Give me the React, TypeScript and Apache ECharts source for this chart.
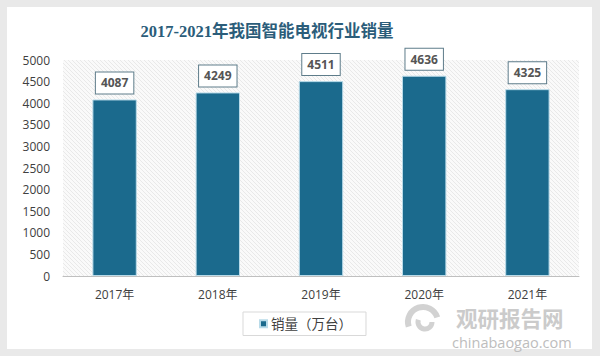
import React, { useEffect, useRef } from "react";
import * as echarts from "echarts";

const categories = ["2017年", "2018年", "2019年", "2020年", "2021年"];
const sales = [4087, 4249, 4511, 4636, 4325];
const seriesName = "销量（万台）";
const titleText = "2017-2021年我国智能电视行业销量";

function makeHatch(): HTMLCanvasElement {
  const s = 4;
  const c = document.createElement("canvas");
  c.width = s;
  c.height = s;
  const ctx = c.getContext("2d")!;
  ctx.fillStyle = "#fafafa";
  ctx.fillRect(0, 0, s, s);
  ctx.strokeStyle = "#e4e4e4";
  ctx.lineWidth = 0.8;
  ctx.beginPath();
  ctx.moveTo(-1, -1);
  ctx.lineTo(s + 1, s + 1);
  ctx.moveTo(-1, s - 1);
  ctx.lineTo(1, s + 1);
  ctx.moveTo(s - 1, -1);
  ctx.lineTo(s + 1, 1);
  ctx.stroke();
  return c;
}

export default function App() {
  const ref = useRef<HTMLDivElement>(null);
  useEffect(() => {
    if (!ref.current) return;
    const chart = echarts.init(ref.current, undefined, { renderer: "svg" });
    const font = "'Open Sans', 'Noto Sans CJK SC', sans-serif";
    chart.setOption({
      animation: false,
      backgroundColor: "#e9e9e9",
      graphic: [
        {
          type: "rect",
          shape: { x: 7, y: 7, width: 585, height: 342 },
          style: { fill: "#ffffff" },
          z: -10,
          silent: true,
        },
        {
          type: "text",
          x: 456,
          y: 306,
          style: {
            text: "观研报告网",
            fill: "#cbcbcb",
            fontSize: 21.5,
            fontWeight: "bold",
            fontFamily: "Noto Sans CJK SC",
            lineHeight: 22,
            verticalAlign: "top",
          },
          z: 100,
        },
        {
          type: "text",
          x: 452,
          y: 335,
          style: {
            text: "chinabaogao.com",
            fill: "#bdbdbd",
            fontSize: 14.5,
            fontFamily: "Open Sans",
            lineHeight: 14,
            verticalAlign: "top",
          },
          z: 100,
        },
        {
          type: "arc",
          shape: { cx: 423, cy: 322, r: 15, startAngle: Math.PI * 0.9, endAngle: Math.PI * 1.9 },
          style: { stroke: "#d2d2d2", lineWidth: 6, fill: "none" },
          z: 100,
        },
        {
          type: "arc",
          shape: { cx: 425, cy: 322, r: 7, startAngle: 0, endAngle: Math.PI * 1.1 },
          style: { stroke: "#d2d2d2", lineWidth: 5, fill: "none" },
          z: 100,
        },
      ],
      title: {
        text: titleText,
        left: 262,
        textAlign: "center",
        top: 18,
        textStyle: {
          fontFamily: "'Liberation Serif', 'Noto Sans CJK SC', serif",
          fontWeight: "bold",
          fontSize: 16.5,
          color: "#2b5d7a",
        },
      },
      legend: {
        left: 243,
        top: 312,
        padding: [5, 14, 5, 16],
        borderColor: "#d9d9d9",
        borderWidth: 1,
        backgroundColor: "#ffffff",
        itemWidth: 7,
        itemHeight: 7,
        itemGap: 4,
        icon: "rect",
        data: [seriesName],
        textStyle: { fontFamily: font, fontSize: 13.5, color: "#404040", padding: [0, 0, 0, -1] },
      },
      grid: {
        left: 63,
        right: 21,
        top: 60,
        bottom: 80,
        show: true,
        borderWidth: 0,
        backgroundColor: { image: makeHatch(), repeat: "repeat" },
      },
      xAxis: {
        type: "category",
        data: categories,
        axisLine: { lineStyle: { color: "#bfbfbf", width: 1 } },
        axisTick: { show: false },
        axisLabel: { color: "#404040", fontSize: 12, fontFamily: font, margin: 12 },
      },
      yAxis: {
        type: "value",
        min: 0,
        max: 5000,
        interval: 500,
        splitLine: { show: false },
        axisLine: { show: false },
        axisTick: { show: false },
        axisLabel: {
          color: "#404040",
          fontSize: 12,
          fontFamily: font,
          margin: 13,
          formatter: (v: number) => String(v),
        },
      },
      series: [
        {
          name: seriesName,
          type: "bar",
          data: sales,
          barWidth: "43%",
          itemStyle: { color: "#1b6a8d", borderColor: "#b9dbe9", borderWidth: 1 },
          label: {
            show: true,
            position: "top",
            distance: 6,
            color: "#555555",
            fontWeight: "bold",
            fontSize: 12,
            fontFamily: font,
            backgroundColor: "#ffffff",
            borderColor: "#5e7c8a",
            borderWidth: 1,
            padding: [3, 5],
            lineHeight: 15,
          },
        },
      ],
    });
    return () => chart.dispose();
  }, []);
  return <div ref={ref} style={{ width: 600, height: 356, position: "absolute", left: 0, top: 0 }} />;
}
